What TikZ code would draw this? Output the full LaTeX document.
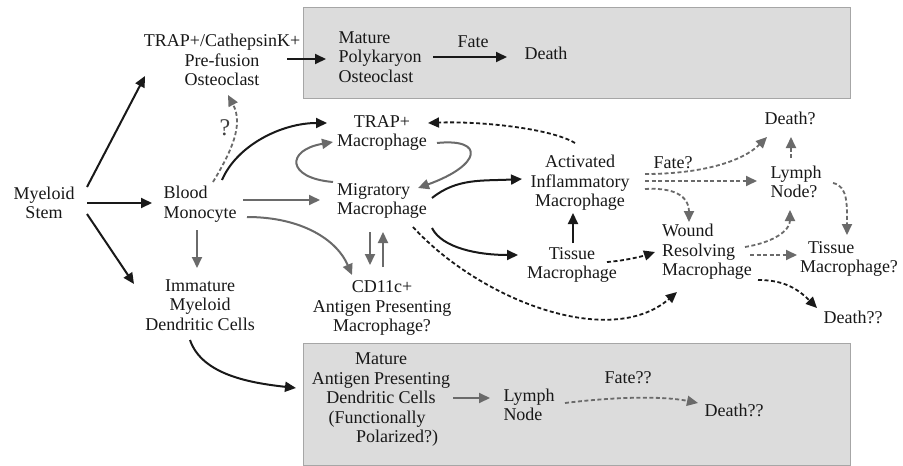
\documentclass[tikz,border=0pt]{standalone}
\usepackage{fontspec}
\setmainfont{Liberation Serif}
\usetikzlibrary{arrows.meta}
\definecolor{txt}{HTML}{181818}
\definecolor{garr}{HTML}{6A6A6A}
\definecolor{boxfill}{HTML}{DCDCDC}
\definecolor{boxline}{HTML}{A6A6A6}
\begin{document}
\begin{tikzpicture}[x=1pt,y=-1pt,
  lbl/.style={font=\fontsize{18}{19.5}\selectfont, text=txt, inner sep=0pt, align=center},
  lft/.style={lbl, align=left},
  blk/.style={draw=black!90, line width=2pt, -{Triangle[length=11pt,width=10pt]}},
  gry/.style={draw=garr, line width=2pt, -{Triangle[length=11pt,width=10pt]}},
  dblk/.style={blk, line width=1.8pt, dash pattern=on 4pt off 2.5pt},
  dgry/.style={gry, line width=1.8pt, dash pattern=on 4pt off 2.5pt},
  panel/.style={fill=boxfill, draw=boxline, line width=0.9pt}
]
\useasboundingbox (0,0) rectangle (903,466);
\fill[white] (0,0) rectangle (903,466);
\path[panel] (303,7) rectangle (850,98);
\path[panel] (303,343) rectangle (850,465);

\node[lbl] (ms) at (44,203) {Myeloid\\Stem};
\node[lbl] (pf) at (222,60) {TRAP+/CathepsinK+\\Pre-fusion\\Osteoclast};
\node[lft] (mpo) at (380,57) {Mature\\Polykaryon\\Osteoclast};
\node[lbl] (fate1) at (473,42) {Fate};
\node[lbl] (death1) at (546,53) {Death};
\node[lbl] (trap) at (382,133) {TRAP+\\Macrophage};
\node[lft] (mig) at (382,201) {Migratory\\Macrophage};
\node[lft] (bm) at (200,204) {Blood\\Monocyte};
\node[lbl, font=\fontsize{24}{26}\selectfont, text=black!75] (qm) at (225,128) {?};
\node[lbl] (imm) at (200,305) {Immature\\Myeloid\\Dendritic Cells};
\node[lbl] (cd) at (382,308) {CD11c+\\Antigen Presenting\\Macrophage?};
\node[lbl] (apc) at (381,400) {Mature\\Antigen Presenting\\Dendritic Cells\\\hspace*{-8pt}(Functionally\\\hspace*{32pt}Polarized?)};
\node[lft] (ln) at (529,405) {Lymph\\Node};
\node[lbl] (fate2) at (628,378) {Fate??};
\node[lbl] (death2) at (734,410) {Death??};
\node[lbl] (act) at (580,183) {Activated\\Inflammatory\\Macrophage};
\node[lbl] (tis) at (572,265) {Tissue\\Macrophage};
\node[lft] (wound) at (707,252) {Wound\\Resolving\\Macrophage};
\node[lbl] (deathq) at (790,118) {Death?};
\node[lft] (lnq) at (796,182) {Lymph\\Node?};
\node[lft] (tmq) at (849,259) {\hspace*{8pt}Tissue\\Macrophage?};
\node[lbl] (deathqq) at (853,317) {Death??};
\node[lbl] (fateq) at (673,163) {Fate?};

% Myeloid stem
\draw[blk] ([shift={(43,-16)}]ms.center) -- ([shift={(-77,16)}]pf.center);
\draw[blk] ([shift={(43,0)}]ms.center) -- ([shift={(-48,-1)}]bm.center);
\draw[blk] ([shift={(43,11)}]ms.center) -- ([shift={(-66,-21)}]imm.center);
% Blood monocyte
\draw[dgry] ([shift={(13,-22)}]bm.center) .. controls +(18,-30) and +(16,30) .. ([shift={(6,35)}]pf.center);
\draw[blk] ([shift={(22,-24)}]bm.center) .. controls +(15,-35) and +(-45,0) .. ([shift={(-55,-10)}]trap.center);
\draw[gry] ([shift={(43,-4)}]bm.center) -- ([shift={(-62,-1)}]mig.center);
\draw[gry] ([shift={(47,13)}]bm.center) .. controls +(55,0) and +(-15,-35) .. ([shift={(-30,-33)}]cd.center);
\draw[gry] ([shift={(-3,26)}]bm.center) -- ([shift={(-3,-37)}]imm.center);
% Migratory / TRAP+ loop
\draw[gry] ([shift={(-49,-19)}]mig.center) .. controls +(-47,-4) and +(-47,8) .. ([shift={(-49,9)}]trap.center);
\draw[gry] ([shift={(55,10)}]trap.center) .. controls +(48,-5) and +(64,-23) .. ([shift={(36,-13)}]mig.center);
\draw[gry] ([shift={(-12,31)}]mig.center) -- ([shift={(-12,-43)}]cd.center);
\draw[gry] ([shift={(1,-41)}]cd.center) -- ([shift={(1,31)}]mig.center);
% Migratory outputs
\draw[blk] ([shift={(50,-3)}]mig.center) .. controls +(25,-20) and +(-40,2) .. ([shift={(-58,-4)}]act.center);
\draw[blk] ([shift={(50,27)}]mig.center) .. controls +(10,20) and +(-40,0) .. ([shift={(-54,-10)}]tis.center);
\draw[dblk] ([shift={(31,26)}]mig.center) .. controls +(67,73) and +(-67,58) .. ([shift={(-30,40)}]wound.center);
% Activated
\draw[dblk] ([shift={(-5,-40)}]act.center) .. controls +(-25,-15) and +(50,-2) .. ([shift={(46,-10)}]trap.center);
\draw[blk] ([shift={(1,-22)}]tis.center) -- ([shift={(-7,30)}]act.center);
\draw[dblk] ([shift={(35,-3)}]tis.center) .. controls +(15,-1) and +(-15,5) .. ([shift={(-52,0)}]wound.center);
\draw[dgry] ([shift={(65,-9)}]act.center) .. controls +(55,0) and +(-25,25) .. ([shift={(-23,19)}]deathq.center);
\draw[dgry] ([shift={(65,-2)}]act.center) -- ([shift={(-39,-1)}]lnq.center);
\draw[dgry] ([shift={(65,6)}]act.center) .. controls +(35,-2) and +(0,-22) .. ([shift={(-18,-30)}]wound.center);
% Right side
\draw[dgry] ([shift={(-5,-24)}]lnq.center) -- ([shift={(1,19)}]deathq.center);
\draw[dgry] ([shift={(37,1)}]lnq.center) .. controls +(15,3) and +(0,-30) .. ([shift={(-2,-24)}]tmq.center);
\draw[dgry] ([shift={(38,-5)}]wound.center) .. controls +(30,-5) and +(0,20) .. ([shift={(-6,28)}]lnq.center);
\draw[dgry] ([shift={(43,3)}]wound.center) -- ([shift={(-52,-4)}]tmq.center);
\draw[dblk] ([shift={(51,28)}]wound.center) .. controls +(25,0) and +(-20,-20) .. ([shift={(-36,-9)}]deathqq.center);
% Dendritic
\draw[blk] ([shift={(-10,35)}]imm.center) .. controls +(12,35) and +(-45,-5) .. ([shift={(-85,-12)}]apc.center);
\draw[gry] ([shift={(72,-2)}]apc.center) -- ([shift={(-39,-7)}]ln.center);
\draw[dgry] ([shift={(36,-2)}]ln.center) .. controls +(40,-5) and +(-40,-8) .. ([shift={(-36,-7)}]death2.center);
% Osteoclast
\draw[blk] ([shift={(65,-1)}]pf.center) -- ([shift={(-54,2)}]mpo.center);
\draw[blk] ([shift={(53,0)}]mpo.center) -- ([shift={(-39,4)}]death1.center);
\end{tikzpicture}
\end{document}
